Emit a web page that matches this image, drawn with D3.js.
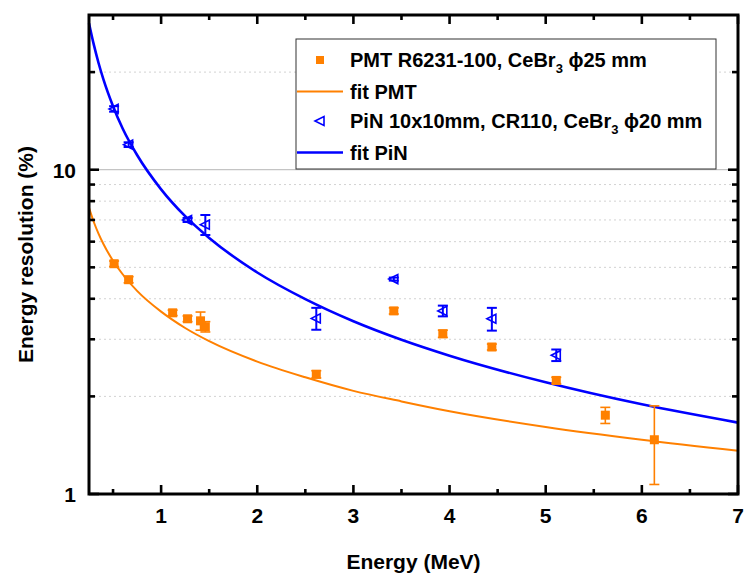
<!DOCTYPE html>
<html>
<head>
<meta charset="utf-8">
<script src="https://cdn.jsdelivr.net/npm/d3@7"></script>
<style>
  body { margin: 0; background: #fff; }
  text { font-family: "Liberation Sans", Arial, sans-serif; font-weight: bold; }
</style>
</head>
<body>
<svg id="chart" width="746" height="579"></svg>
<script>
// measured points, PMT R6231-100
const pmtEnergy = [0.511, 0.662, 1.12, 1.275, 1.41, 1.46, 2.614, 3.42, 3.93, 4.44, 5.11, 5.62, 6.13];
const pmtRes    = [5.13, 4.58, 3.62, 3.47, 3.42, 3.28, 2.34, 3.67, 3.12, 2.84, 2.24, 1.75, 1.47];
const pmtErr    = [0.1, 0.1, 0.07, 0.07, 0.22, 0.12, 0.06, 0.08, 0.08, 0.06, 0.05, 0.1, 0.4];

// measured points, PiN diode
const pinEnergy = [0.511, 0.662, 1.275, 1.46, 2.614, 3.42, 3.93, 4.44, 5.11];
const pinRes    = [15.4, 11.95, 7.0, 6.77, 3.48, 4.6, 3.67, 3.47, 2.68];
const pinErr    = [0.3, 0.2, 0.1, 0.48, 0.27, 0.05, 0.14, 0.28, 0.11];

// fit curves
const fitEnergy = [0.25, 0.3, 0.35, 0.4, 0.5, 0.6, 0.75, 1, 1.25, 1.5, 2, 2.5, 3, 3.5, 4, 5, 6, 7];
const fitPmtRes = [7.63, 6.90, 6.34, 5.90, 5.24, 4.76, 4.23, 3.65, 3.25, 2.96, 2.56, 2.29, 2.08, 1.93, 1.80, 1.61, 1.47, 1.36];
const fitPinRes = [28.3, 24.3, 21.3, 19.0, 15.7, 13.4, 11.1, 8.7, 7.19, 6.16, 4.82, 3.99, 3.41, 2.99, 2.67, 2.21, 1.89, 1.66];

const xTicks = [1, 2, 3, 4, 5, 6, 7];
const xMinor = [0.5, 1.5, 2.5, 3.5, 4.5, 5.5, 6.5];
const yTicks = [1, 10];
const yMinor = [2, 3, 4, 5, 6, 7, 8, 9, 20];

const legendLabels = [
  ["PMT R6231-100, CeBr", "3", " \u03D525 mm"],
  ["fit PMT"],
  ["PiN 10x10mm, CR110, CeBr", "3", " \u03D520 mm"],
  ["fit PiN"]
];

const orange = "#ff8000";
const blue = "#0000ff";

const svg = d3.select("#chart");
const margin = { left: 89, right: 8, top: 15, bottom: 85 };
const W = 746, H = 579;

const x = d3.scaleLinear().domain([0.25, 7]).range([margin.left, W - margin.right]);
const y = d3.scaleLog().domain([1, 30]).range([H - margin.bottom, margin.top]);

// grid
svg.append("g").selectAll("line")
  .data(yMinor)
  .join("line")
  .attr("x1", x.range()[0]).attr("x2", x.range()[1])
  .attr("y1", d => y(d)).attr("y2", d => y(d))
  .attr("stroke", "#d2d2d2").attr("stroke-width", 1)
  .attr("stroke-dasharray", "2,3");
svg.append("line")
  .attr("x1", x.range()[0]).attr("x2", x.range()[1])
  .attr("y1", y(10)).attr("y2", y(10))
  .attr("stroke", "#c4c4c4").attr("stroke-width", 1.2);

// fit lines
const fitLine = d3.line()
  .x(d => x(d[0]))
  .y(d => y(d[1]))
  .curve(d3.curveMonotoneX);

svg.append("path")
  .datum(d3.zip(fitEnergy, fitPmtRes))
  .attr("d", fitLine)
  .attr("fill", "none").attr("stroke", orange).attr("stroke-width", 2);

svg.append("path")
  .datum(d3.zip(fitEnergy, fitPinRes))
  .attr("d", fitLine)
  .attr("fill", "none").attr("stroke", blue).attr("stroke-width", 2.6);

// error bars
function errorBars(E, R, err, color, w) {
  const g = svg.append("g").attr("stroke", color).attr("stroke-width", w);
  const rows = d3.zip(E, R, err);
  g.selectAll(".v").data(rows).join("line")
    .attr("x1", d => x(d[0])).attr("x2", d => x(d[0]))
    .attr("y1", d => y(d[1] + d[2])).attr("y2", d => y(d[1] - d[2]));
  g.selectAll(".t").data(rows).join("line")
    .attr("x1", d => x(d[0]) - 5).attr("x2", d => x(d[0]) + 5)
    .attr("y1", d => y(d[1] + d[2])).attr("y2", d => y(d[1] + d[2]));
  g.selectAll(".b").data(rows).join("line")
    .attr("x1", d => x(d[0]) - 5).attr("x2", d => x(d[0]) + 5)
    .attr("y1", d => y(d[1] - d[2])).attr("y2", d => y(d[1] - d[2]));
}
errorBars(pmtEnergy, pmtRes, pmtErr, orange, 1.6);
errorBars(pinEnergy, pinRes, pinErr, blue, 2);

// markers
const triangle = "M-5,0L4,-4.5L4,4.5Z";
svg.append("g").selectAll("rect")
  .data(d3.zip(pmtEnergy, pmtRes))
  .join("rect")
  .attr("x", d => x(d[0]) - 4.5).attr("y", d => y(d[1]) - 4.5)
  .attr("width", 9).attr("height", 9)
  .attr("fill", orange);

svg.append("g").selectAll("path")
  .data(d3.zip(pinEnergy, pinRes))
  .join("path")
  .attr("d", triangle)
  .attr("transform", d => `translate(${x(d[0])},${y(d[1])})`)
  .attr("fill", "none").attr("stroke", blue).attr("stroke-width", 1.6);

// frame + ticks
const x0 = x.range()[0], x1 = x.range()[1], y0 = y.range()[0], y1 = y.range()[1];
const ax = svg.append("g").attr("stroke", "#000");

ax.selectAll(".xt").data(xTicks.concat(xMinor)).join("line")
  .attr("x1", d => x(d)).attr("x2", d => x(d))
  .attr("y1", y0).attr("y2", d => y0 - (xTicks.includes(d) ? 9 : 5))
  .attr("stroke-width", 2.6);
ax.selectAll(".xtt").data(xTicks.concat(xMinor)).join("line")
  .attr("x1", d => x(d)).attr("x2", d => x(d))
  .attr("y1", y1).attr("y2", d => y1 + (xTicks.includes(d) ? 9 : 5))
  .attr("stroke-width", 2.6);
ax.selectAll(".yt").data(yTicks.concat(yMinor)).join("line")
  .attr("x1", x0).attr("x2", d => x0 + (yTicks.includes(d) ? 10 : 6))
  .attr("y1", d => y(d)).attr("y2", d => y(d))
  .attr("stroke-width", 2.6);
ax.selectAll(".ytr").data(yTicks.concat(yMinor)).join("line")
  .attr("x1", x1).attr("x2", d => x1 - (yTicks.includes(d) ? 10 : 6))
  .attr("y1", d => y(d)).attr("y2", d => y(d))
  .attr("stroke-width", 2.6);

svg.append("rect")
  .attr("x", x0).attr("y", y1)
  .attr("width", x1 - x0).attr("height", y0 - y1)
  .attr("fill", "none").attr("stroke", "#000").attr("stroke-width", 3);

// tick labels
svg.append("g").selectAll("text")
  .data(xTicks).join("text")
  .attr("x", d => x(d)).attr("y", y0 + 29)
  .attr("text-anchor", "middle")
  .attr("font-size", 21)
  .text(d => d);

svg.append("g").selectAll("text")
  .data(yTicks).join("text")
  .attr("x", x0 - 13).attr("y", d => y(d) + 8)
  .attr("text-anchor", "end")
  .attr("font-size", 21)
  .text(d => d);

// axis titles
svg.append("text")
  .attr("x", (x0 + x1) / 2).attr("y", 569)
  .attr("text-anchor", "middle").attr("font-size", 21)
  .text("Energy (MeV)");

svg.append("text")
  .attr("transform", `translate(33,${(y0 + y1) / 2}) rotate(-90)`)
  .attr("text-anchor", "middle").attr("font-size", 21)
  .text("Energy resolution (%)");

// legend
const lg = svg.append("g");
lg.append("rect")
  .attr("x", 296).attr("y", 39).attr("width", 420).attr("height", 130)
  .attr("fill", "#fff").attr("stroke", "#333").attr("stroke-width", 1);

const rowY = [60, 91.5, 121, 152.5];
lg.append("rect").attr("x", 316).attr("y", rowY[0] - 4).attr("width", 8).attr("height", 8).attr("fill", orange);
lg.append("line").attr("x1", 297).attr("x2", 343).attr("y1", rowY[1]).attr("y2", rowY[1])
  .attr("stroke", orange).attr("stroke-width", 2);
lg.append("path").attr("d", triangle).attr("transform", `translate(320,${rowY[2]})`)
  .attr("fill", "none").attr("stroke", blue).attr("stroke-width", 1.6);
lg.append("line").attr("x1", 297).attr("x2", 343).attr("y1", rowY[3]).attr("y2", rowY[3])
  .attr("stroke", blue).attr("stroke-width", 2.6);

legendLabels.forEach((parts, i) => {
  const t = lg.append("text")
    .attr("x", 350).attr("y", rowY[i] + 7)
    .attr("font-size", 20);
  t.append("tspan").text(parts[0]);
  if (parts.length > 1) {
    t.append("tspan").attr("dy", 6).attr("font-size", 13).text(parts[1]);
    t.append("tspan").attr("dy", -6).text(parts[2]);
  }
});
</script>
</body>
</html>
